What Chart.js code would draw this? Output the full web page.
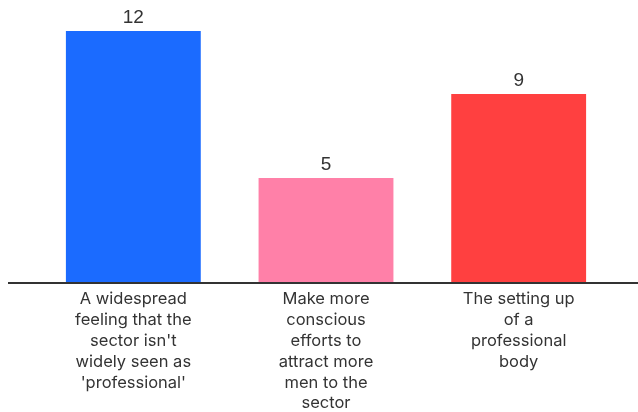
<!DOCTYPE html>
<html>
<head>
<meta charset="utf-8">
<script src="https://cdn.jsdelivr.net/npm/chart.js@4/dist/chart.umd.min.js"></script>
<style>
  html, body { margin: 0; padding: 0; background: #fff; }
  #wrap { width: 638px; height: 412px; }
</style>
</head>
<body>
<div id="wrap"><canvas id="myChart"></canvas></div>
<script>
// Categories (multi-line tick labels) and values
const categories = [
    ["A widespread", "feeling that the", "sector isn't", "widely seen as", "'professional'"],
    ["Make more", "conscious", "efforts to", "attract more", "men to the", "sector"],
    ["The setting up", "of a", "professional", "body"]
];
const values = [12, 5, 9];
const barColors = ['#1b6bff', '#ff80a8', '#ff4040'];

// Draws the value above each bar
const valueLabels = {
    id: 'valueLabels',
    afterDatasetsDraw(chart) {
        const { ctx } = chart;
        const meta = chart.getDatasetMeta(0);
        ctx.save();
        ctx.font = '19px "Liberation Sans", Arial, sans-serif';
        ctx.fillStyle = '#333';
        ctx.textAlign = 'center';
        ctx.textBaseline = 'bottom';
        meta.data.forEach((bar, i) => {
            ctx.fillText(values[i], bar.x, bar.y - 4);
        });
        ctx.restore();
    }
};

// Baseline that runs past the plot area
const baseline = {
    id: 'baseline',
    afterDatasetsDraw(chart) {
        const { ctx } = chart;
        const y = chart.scales.y.getPixelForValue(0);
        ctx.save();
        ctx.strokeStyle = '#333';
        ctx.lineWidth = 2;
        ctx.beginPath();
        ctx.moveTo(8, y);
        ctx.lineTo(638, y);
        ctx.stroke();
        ctx.restore();
    }
};

const ctx = document.getElementById('myChart').getContext('2d');
const chart = new Chart(ctx, {
    type: 'bar',
    data: {
        labels: categories,
        datasets: [{
            data: values,
            backgroundColor: barColors,
            borderWidth: 0,
            barPercentage: 0.7,
            categoryPercentage: 1
        }]
    },
    options: {
        responsive: true,
        maintainAspectRatio: false,
        animation: false,
        layout: { padding: { left: 37, right: 23, top: 31, bottom: 0 } },
        plugins: {
            legend: { display: false },
            tooltip: { enabled: false }
        },
        scales: {
            y: {
                display: false,
                min: 0,
                max: 12
            },
            x: {
                grid: { display: false, drawTicks: false },
                border: { display: false },
                ticks: {
                    color: '#333',
                    padding: 6,
                    maxRotation: 0,
                    autoSkip: false,
                    font: { family: 'Inter, "Noto Sans", sans-serif', size: 16.5, lineHeight: 1.26 }
                },
                afterFit: (scale) => { scale.height = 129; }
            }
        }
    },
    plugins: [valueLabels, baseline]
});
</script>
</body>
</html>
